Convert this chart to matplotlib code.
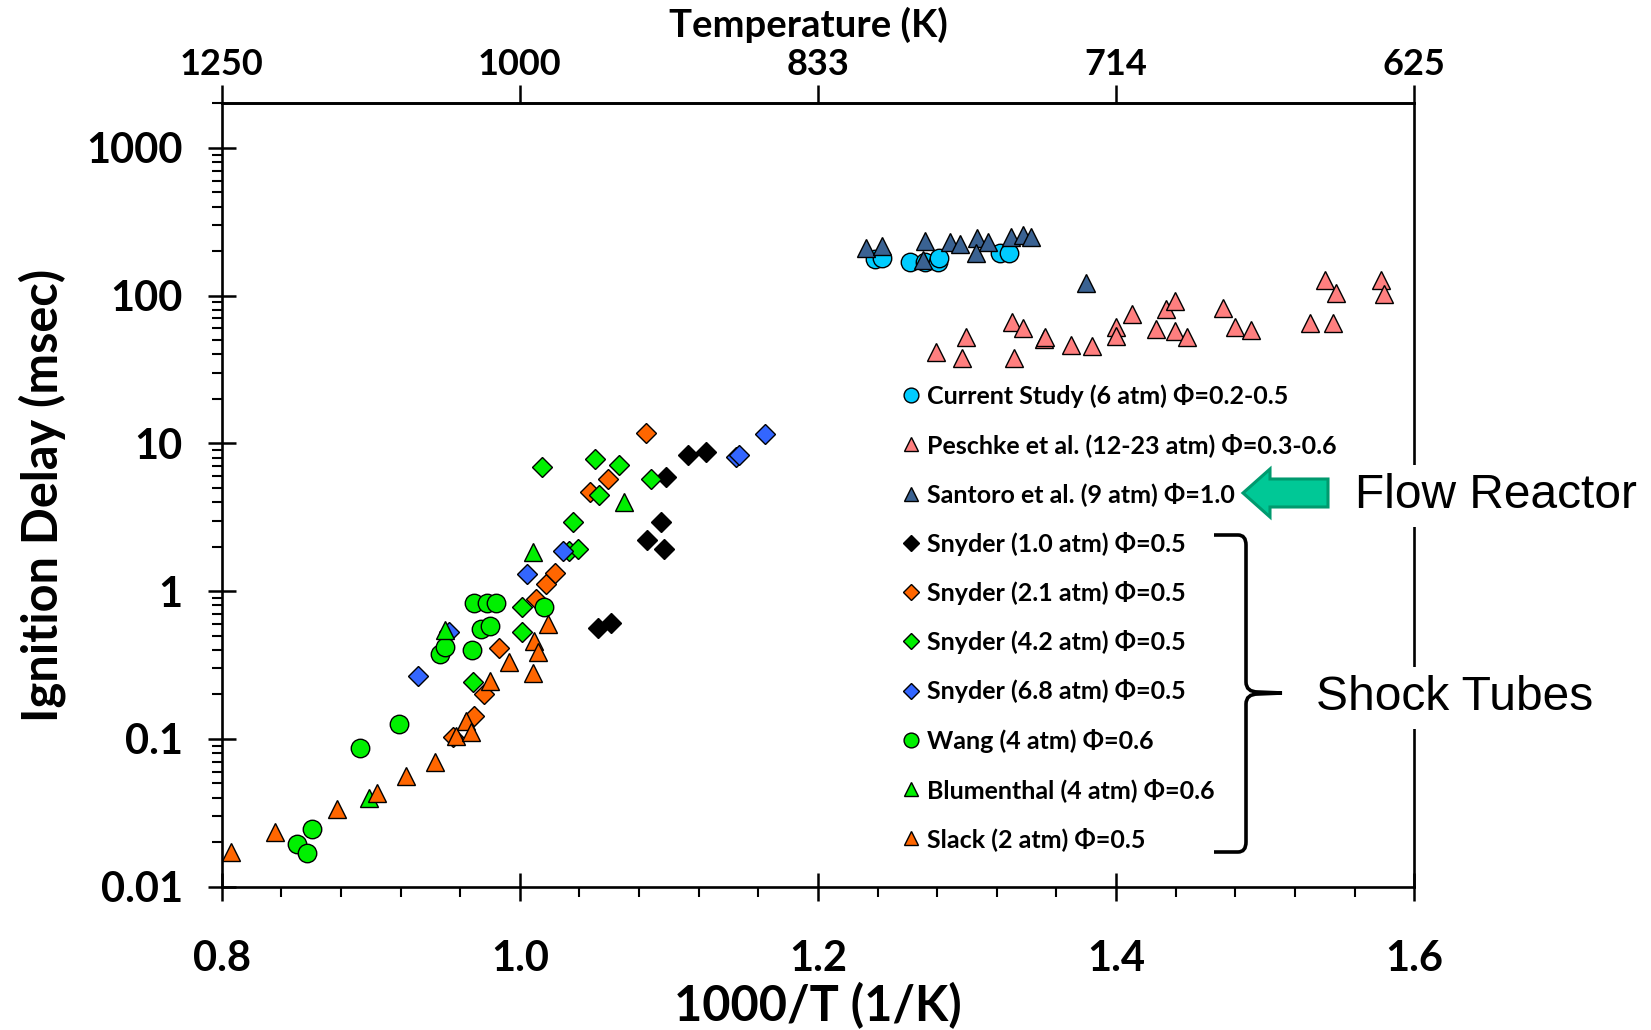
import matplotlib.pyplot as plt
import numpy as np
from matplotlib.patches import FancyArrow, PathPatch
from matplotlib.path import Path
from matplotlib.ticker import LogLocator, MultipleLocator, NullFormatter

W, H = 1651, 1030
BOLD = ['Lato', 'DejaVu Sans']

plt.rcParams.update({
    'font.family': BOLD,
    'font.weight': 'bold',
    'axes.linewidth': 1.9,
})

# ── data: 1000/T (1/K) and ignition delay (msec) ──
current_x = [1.2385, 1.2430, 1.2617, 1.2721, 1.2803, 1.2815, 1.3218, 1.3283]
current_y = [178, 180, 170, 169, 170, 180, 193, 193]

peschke_x = [1.2793, 1.2963, 1.2992, 1.3300, 1.3314, 1.3377, 1.3518, 1.3525,
             1.3696, 1.3835, 1.3996, 1.3996, 1.4104, 1.4267, 1.4335, 1.4397,
             1.4395, 1.4474, 1.4717, 1.4796, 1.4906, 1.5300, 1.5398, 1.5477,
             1.5458, 1.5777, 1.5797]
peschke_y = [41.8, 37.8, 52.8, 65.9, 37.8, 60.0, 51.1, 52.8,
             46.5, 45.6, 61.7, 53.2, 74.7, 59.1, 81.6, 91.9,
             57.5, 52.8, 82.9, 61.7, 58.5, 64.9, 127.6, 103.7,
             64.9, 127.6, 102.1]

santoro_x = [1.2322, 1.2430, 1.2718, 1.2706, 1.2884, 1.2951, 1.3069, 1.3057,
             1.3141, 1.3295, 1.3374, 1.3427, 1.3797]
santoro_y = [211, 215, 234, 174, 231, 225, 247, 193, 231, 251, 256, 251, 122]

snyder10_x = [1.0522, 1.0609, 1.0850, 1.0970, 1.0945, 1.0983, 1.1128, 1.1251]
snyder10_y = [0.560, 0.609, 2.23, 1.94, 2.94, 5.90, 8.37, 8.77]

snyder21_x = [0.9554, 0.9695, 0.9757, 0.9860, 1.0105, 1.0174, 1.0234, 1.0468,
              1.0591, 1.0843]
snyder21_y = [0.103, 0.144, 0.202, 0.41, 0.89, 1.12, 1.33, 4.70, 5.78, 11.8]

snyder42_x = [0.9688, 1.0013, 1.0013, 1.0330, 1.0392, 1.0357, 1.0147, 1.0506,
              1.0528, 1.0662, 1.0880]
snyder42_y = [0.244, 0.53, 0.78, 1.87, 1.93, 2.95, 6.90, 7.78, 4.46, 7.16, 5.72]

snyder68_x = [0.9318, 0.9527, 1.0047, 1.0292, 1.1450, 1.1470, 1.1647]
snyder68_y = [0.265, 0.53, 1.31, 1.88, 8.1, 8.3, 11.5]

wang_x = [0.8508, 0.8570, 0.8604, 0.8928, 0.9190, 0.9465, 0.9496, 0.9680,
          0.9740, 0.9800, 0.9690, 0.9780, 0.9840, 1.0160]
wang_y = [0.0195, 0.0170, 0.0245, 0.0866, 0.127, 0.375, 0.416, 0.401,
          0.557, 0.578, 0.831, 0.831, 0.831, 0.777]

blumenthal_x = [0.8988, 0.9500, 1.0085, 1.0696]
blumenthal_y = [0.0401, 0.548, 1.83, 4.04]

slack_x = [0.8060, 0.8360, 0.8770, 0.9040, 0.9235, 0.9430, 0.9570, 0.9640,
           0.9670, 0.9800, 0.9930, 1.0085, 1.0096, 1.0125, 1.0190]
slack_y = [0.0173, 0.0233, 0.0334, 0.0429, 0.0565, 0.0703, 0.105, 0.1325,
           0.112, 0.247, 0.333, 0.279, 0.457, 0.387, 0.599]

series = [
    ('Current Study (6 atm) Φ=0.2-0.5', current_x, current_y, 'o', '#00CCFF'),
    ('Peschke et al. (12-23 atm) Φ=0.3-0.6', peschke_x, peschke_y, '^', '#FF7F7F'),
    ('Santoro et al. (9 atm) Φ=1.0', santoro_x, santoro_y, '^', '#3A6292'),
    ('Snyder (1.0 atm) Φ=0.5', snyder10_x, snyder10_y, 'D', '#000000'),
    ('Snyder (2.1 atm) Φ=0.5', snyder21_x, snyder21_y, 'D', '#FF6600'),
    ('Snyder (4.2 atm) Φ=0.5', snyder42_x, snyder42_y, 'D', '#00F000'),
    ('Snyder (6.8 atm) Φ=0.5', snyder68_x, snyder68_y, 'D', '#3366FF'),
    ('Wang (4 atm) Φ=0.6', wang_x, wang_y, 'o', '#00F000'),
    ('Blumenthal (4 atm) Φ=0.6', blumenthal_x, blumenthal_y, '^', '#00F000'),
    ('Slack (2 atm) Φ=0.5', slack_x, slack_y, '^', '#FF6600'),
]
msize = {'o': 13.3, '^': 13.0, 'D': 9.8}

temp_ticks = [0.8, 1.0, 1.2, 1.4, 1.6]
temp_labels = ['1250', '1000', '833', '714', '625']
delay_ticks = [0.01, 0.1, 1, 10, 100, 1000]
delay_labels = ['0.01', '0.1', '1', '10', '100', '1000']

fig = plt.figure(figsize=(W / 100, H / 100), dpi=100)
ax = fig.add_axes([0.1343, 0.1391, 0.7223, 0.7606])

for label, xs, ys, mk, col in series:
    ax.plot(xs, ys, ls='none', marker=mk, ms=msize[mk], mfc=col,
            mec='black', mew=1.0, label=label)

ax.set_yscale('log')
ax.set_xlim(0.8, 1.6)
ax.set_ylim(0.01, 2000)

ax.set_xticks(temp_ticks, [f'{t:.1f}' for t in temp_ticks])
ax.xaxis.set_minor_locator(MultipleLocator(0.04))
ax.set_yticks(delay_ticks, delay_labels)
ax.yaxis.set_minor_locator(LogLocator(base=10, subs=np.arange(2, 10)))
ax.yaxis.set_minor_formatter(NullFormatter())

ax.tick_params(which='major', direction='inout', length=20, width=1.8,
               labelsize=30, top=False, right=False)
ax.tick_params(axis='x', which='major', pad=28)
ax.tick_params(axis='y', which='major', pad=18)
ax.tick_params(which='minor', direction='out', length=7, width=1.5,
               top=False, right=False)

ax.set_xlabel('1000/T (1/K)', fontsize=35, fontweight='bold')
ax.xaxis.set_label_coords(0.5, -0.122)
ax.set_ylabel('Ignition Delay (msec)', fontsize=35, fontweight='bold')
ax.yaxis.set_label_coords(-0.131, 0.5)

# top axis in temperature
sec = ax.secondary_xaxis('top')
sec.set_xticks(temp_ticks, temp_labels)
sec.tick_params(direction='out', length=13, width=1.8, labelsize=26, pad=3)
sec.xaxis.set_minor_locator(plt.NullLocator())
fig.text(808 / W, 1 - 25 / H, 'Temperature (K)', fontsize=27.5,
         fontweight='bold', ha='center', va='center')

leg = ax.legend(loc='upper left', bbox_to_anchor=(901 / W, 1 - 384 / H),
                bbox_transform=fig.transFigure, frameon=False, fontsize=18,
                markerscale=0.8, handlelength=0.8, handletextpad=0.24,
                labelspacing=1.01, borderpad=0, borderaxespad=0)
for t in leg.get_texts():
    t.set_fontweight('bold')

# ── annotations: arrow, brace and group labels ──
def fx(px):
    return px / W


def fy(py):
    return 1 - py / H


fig.add_artist(FancyArrow(fx(1328), fy(493), fx(1243) - fx(1328), 0,
                          width=28 / H, head_width=48 / H,
                          head_length=27 / W, length_includes_head=True,
                          transform=fig.transFigure, fc='#00C896',
                          ec='#009A6E', lw=2.2))

brace_pts = [(1214, 535), (1238, 535), (1246, 535), (1246, 545),
             (1246, 682), (1246, 692), (1258, 692), (1282, 693),
             (1258, 694), (1246, 694), (1246, 704),
             (1246, 842), (1246, 852), (1238, 852), (1214, 852)]
codes = [Path.MOVETO, Path.LINETO, Path.CURVE3, Path.CURVE3,
         Path.LINETO, Path.CURVE3, Path.CURVE3, Path.LINETO,
         Path.LINETO, Path.CURVE3, Path.CURVE3,
         Path.LINETO, Path.CURVE3, Path.CURVE3, Path.LINETO]
brace = Path([(fx(a), fy(b)) for a, b in brace_pts], codes)
fig.add_artist(PathPatch(brace, transform=fig.transFigure, fill=False,
                         lw=2.6, ec='black', capstyle='butt'))

fig.text(fx(1355), fy(496), 'Flow Reactor', fontsize=34.5,
         family='Liberation Sans', fontweight='normal', ha='left',
         va='center', bbox=dict(fc='white', ec='none', pad=6), zorder=5)
fig.text(fx(1316), fy(698), 'Shock Tubes', fontsize=34.5,
         family='Liberation Sans', fontweight='normal', ha='left',
         va='center', bbox=dict(fc='white', ec='none', pad=6), zorder=5)

fig.savefig('out.png', dpi=100)
